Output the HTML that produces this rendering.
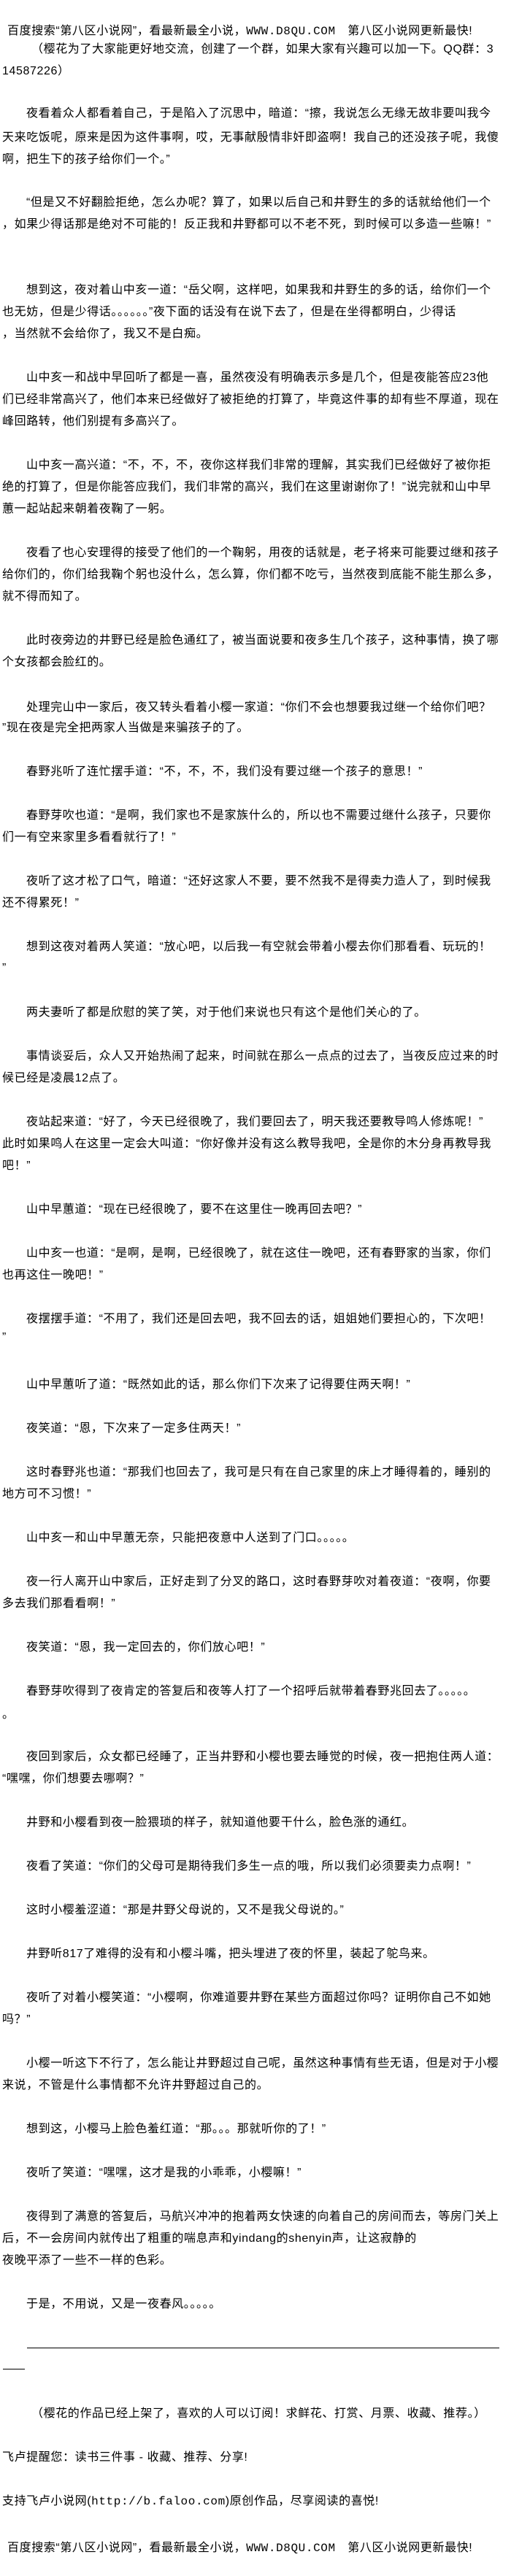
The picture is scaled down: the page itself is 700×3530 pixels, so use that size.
<!DOCTYPE html>
<html><head><meta charset="utf-8">
<style>
html,body{margin:0;padding:0;background:#fff;}
body{width:700px;height:3530px;position:relative;overflow:hidden;font-family:"Liberation Sans","Noto Sans CJK SC","WenQuanYi Zen Hei",sans-serif;color:#000;}
.l{position:absolute;left:3px;font-size:16px;letter-spacing:0.6px;line-height:20px;height:20px;white-space:nowrap;}
.i{left:36px;}
.m{font-family:"Liberation Mono","Noto Sans CJK SC",monospace;}
.rule{position:absolute;height:0;border-top:1px solid #000;}
</style></head><body>
<div class="l" style="left:10px;top:33px">百度搜索“第八区小说网”，看最新最全小说，<span class="m">WWW.D8QU.COM</span>　第八区小说网更新最快!</div>
<div class="l" style="left:43px;top:58px">（樱花为了大家能更好地交流，创建了一个群，如果大家有兴趣可以加一下。QQ群：3</div>
<div class="l" style="top:88px">14587226）</div>

<div class="l i" style="top:146px">夜看着众人都看着自己，于是陷入了沉思中，暗道：“擦，我说怎么无缘无故非要叫我今</div>
<div class="l" style="top:179px">天来吃饭呢，原来是因为这件事啊，哎，无事献殷情非奸即盗啊！我自己的还没孩子呢，我傻</div>
<div class="l" style="top:209px">啊，把生下的孩子给你们一个。”</div>

<div class="l i" style="top:268px">“但是又不好翻脸拒绝，怎么办呢？算了，如果以后自己和井野生的多的话就给他们一个</div>
<div class="l" style="top:298px">，如果少得话那是绝对不可能的！反正我和井野都可以不老不死，到时候可以多造一些嘛！”</div>

<div class="l i" style="top:388px">想到这，夜对着山中亥一道：“岳父啊，这样吧，如果我和井野生的多的话，给你们一个</div>
<div class="l" style="top:418px">也无妨，但是少得话。。。。。。”夜下面的话没有在说下去了，但是在坐得都明白，少得话</div>
<div class="l" style="top:448px">，当然就不会给你了，我又不是白痴。</div>

<div class="l i" style="top:508px">山中亥一和战中早回听了都是一喜，虽然夜没有明确表示多是几个，但是夜能答应23他</div>
<div class="l" style="top:538px">们已经非常高兴了，他们本来已经做好了被拒绝的打算了，毕竟这件事的却有些不厚道，现在</div>
<div class="l" style="top:568px">峰回路转，他们别提有多高兴了。</div>

<div class="l i" style="top:628px">山中亥一高兴道：“不，不，不，夜你这样我们非常的理解，其实我们已经做好了被你拒</div>
<div class="l" style="top:658px">绝的打算了，但是你能答应我们，我们非常的高兴，我们在这里谢谢你了！”说完就和山中早</div>
<div class="l" style="top:688px">蕙一起站起来朝着夜鞠了一躬。</div>

<div class="l i" style="top:748px">夜看了也心安理得的接受了他们的一个鞠躬，用夜的话就是，老子将来可能要过继和孩子</div>
<div class="l" style="top:778px">给你们的，你们给我鞠个躬也没什么，怎么算，你们都不吃亏，当然夜到底能不能生那么多，</div>
<div class="l" style="top:808px">就不得而知了。</div>

<div class="l i" style="top:868px">此时夜旁边的井野已经是脸色通红了，被当面说要和夜多生几个孩子，这种事情，换了哪</div>
<div class="l" style="top:898px">个女孩都会脸红的。</div>

<div class="l i" style="top:960px">处理完山中一家后，夜又转头看着小樱一家道：“你们不会也想要我过继一个给你们吧？</div>
<div class="l" style="top:988px">”现在夜是完全把两家人当做是来骗孩子的了。</div>

<div class="l i" style="top:1048px">春野兆听了连忙摆手道：“不，不，不，我们没有要过继一个孩子的意思！”</div>

<div class="l i" style="top:1108px">春野芽吹也道：“是啊，我们家也不是家族什么的，所以也不需要过继什么孩子，只要你</div>
<div class="l" style="top:1138px">们一有空来家里多看看就行了！”</div>

<div class="l i" style="top:1198px">夜听了这才松了口气，暗道：“还好这家人不要，要不然我不是得卖力造人了，到时候我</div>
<div class="l" style="top:1228px">还不得累死！”</div>

<div class="l i" style="top:1288px">想到这夜对着两人笑道：“放心吧，以后我一有空就会带着小樱去你们那看看、玩玩的！</div>
<div class="l" style="top:1317px">”</div>

<div class="l i" style="top:1378px">两夫妻听了都是欣慰的笑了笑，对于他们来说也只有这个是他们关心的了。</div>

<div class="l i" style="top:1438px">事情谈妥后，众人又开始热闹了起来，时间就在那么一点点的过去了，当夜反应过来的时</div>
<div class="l" style="top:1468px">候已经是凌晨12点了。</div>

<div class="l i" style="top:1528px">夜站起来道：“好了，今天已经很晚了，我们要回去了，明天我还要教导鸣人修炼呢！”</div>
<div class="l" style="top:1558px">此时如果鸣人在这里一定会大叫道：“你好像并没有这么教导我吧，全是你的木分身再教导我</div>
<div class="l" style="top:1588px">吧！”</div>

<div class="l i" style="top:1648px">山中早蕙道：“现在已经很晚了，要不在这里住一晚再回去吧？”</div>

<div class="l i" style="top:1708px">山中亥一也道：“是啊，是啊，已经很晚了，就在这住一晚吧，还有春野家的当家，你们</div>
<div class="l" style="top:1738px">也再这住一晚吧！”</div>

<div class="l i" style="top:1798px">夜摆摆手道：“不用了，我们还是回去吧，我不回去的话，姐姐她们要担心的，下次吧！</div>
<div class="l" style="top:1823px">”</div>

<div class="l i" style="top:1888px">山中早蕙听了道：“既然如此的话，那么你们下次来了记得要住两天啊！”</div>

<div class="l i" style="top:1948px">夜笑道：“恩，下次来了一定多住两天！”</div>

<div class="l i" style="top:2008px">这时春野兆也道：“那我们也回去了，我可是只有在自己家里的床上才睡得着的，睡别的</div>
<div class="l" style="top:2038px">地方可不习惯！”</div>

<div class="l i" style="top:2098px">山中亥一和山中早蕙无奈，只能把夜意中人送到了门口。。。。。</div>

<div class="l i" style="top:2158px">夜一行人离开山中家后，正好走到了分叉的路口，这时春野芽吹对着夜道：“夜啊，你要</div>
<div class="l" style="top:2188px">多去我们那看看啊！”</div>

<div class="l i" style="top:2248px">夜笑道：“恩，我一定回去的，你们放心吧！”</div>

<div class="l i" style="top:2308px">春野芽吹得到了夜肯定的答复后和夜等人打了一个招呼后就带着春野兆回去了。。。。。</div>
<div class="l" style="top:2340px">。</div>

<div class="l i" style="top:2398px">夜回到家后，众女都已经睡了，正当井野和小樱也要去睡觉的时候，夜一把抱住两人道：</div>
<div class="l" style="top:2428px">“嘿嘿，你们想要去哪啊？”</div>

<div class="l i" style="top:2488px">井野和小樱看到夜一脸猥琐的样子，就知道他要干什么，脸色涨的通红。</div>

<div class="l i" style="top:2548px">夜看了笑道：“你们的父母可是期待我们多生一点的哦，所以我们必须要卖力点啊！”</div>

<div class="l i" style="top:2608px">这时小樱羞涩道：“那是井野父母说的，又不是我父母说的。”</div>

<div class="l i" style="top:2668px">井野听817了难得的没有和小樱斗嘴，把头埋进了夜的怀里，装起了鸵鸟来。</div>

<div class="l i" style="top:2728px">夜听了对着小樱笑道：“小樱啊，你难道要井野在某些方面超过你吗？证明你自己不如她</div>
<div class="l" style="top:2758px">吗？”</div>

<div class="l i" style="top:2818px">小樱一听这下不行了，怎么能让井野超过自己呢，虽然这种事情有些无语，但是对于小樱</div>
<div class="l" style="top:2848px">来说，不管是什么事情都不允许井野超过自己的。</div>

<div class="l i" style="top:2908px">想到这，小樱马上脸色羞红道：“那。。。那就听你的了！”</div>

<div class="l i" style="top:2968px">夜听了笑道：“嘿嘿，这才是我的小乖乖，小樱嘛！”</div>

<div class="l i" style="top:3028px">夜得到了满意的答复后，马航兴冲冲的抱着两女快速的向着自己的房间而去，等房门关上</div>
<div class="l" style="top:3058px">后，不一会房间内就传出了粗重的喘息声和yindang的shenyin声，让这寂静的</div>
<div class="l" style="top:3088px">夜晚平添了一些不一样的色彩。</div>

<div class="l i" style="top:3148px">于是，不用说，又是一夜春风。。。。。</div>

<div class="rule" style="left:37px;width:647px;top:3217px"></div>
<div class="rule" style="left:4px;width:30px;top:3246px"></div>

<div class="l" style="left:43px;top:3298px">（樱花的作品已经上架了，喜欢的人可以订阅！求鲜花、打赏、月票、收藏、推荐。）</div>

<div class="l" style="top:3358px">飞卢提醒您：读书三件事 - 收藏、推荐、分享!</div>

<div class="l" style="top:3418px">支持飞卢小说网(<span class="m">http://b.faloo.com</span>)原创作品，尽享阅读的喜悦!</div>

<div class="l" style="left:10px;top:3482px">百度搜索“第八区小说网”，看最新最全小说，<span class="m">WWW.D8QU.COM</span>　第八区小说网更新最快!</div>
</body></html>
